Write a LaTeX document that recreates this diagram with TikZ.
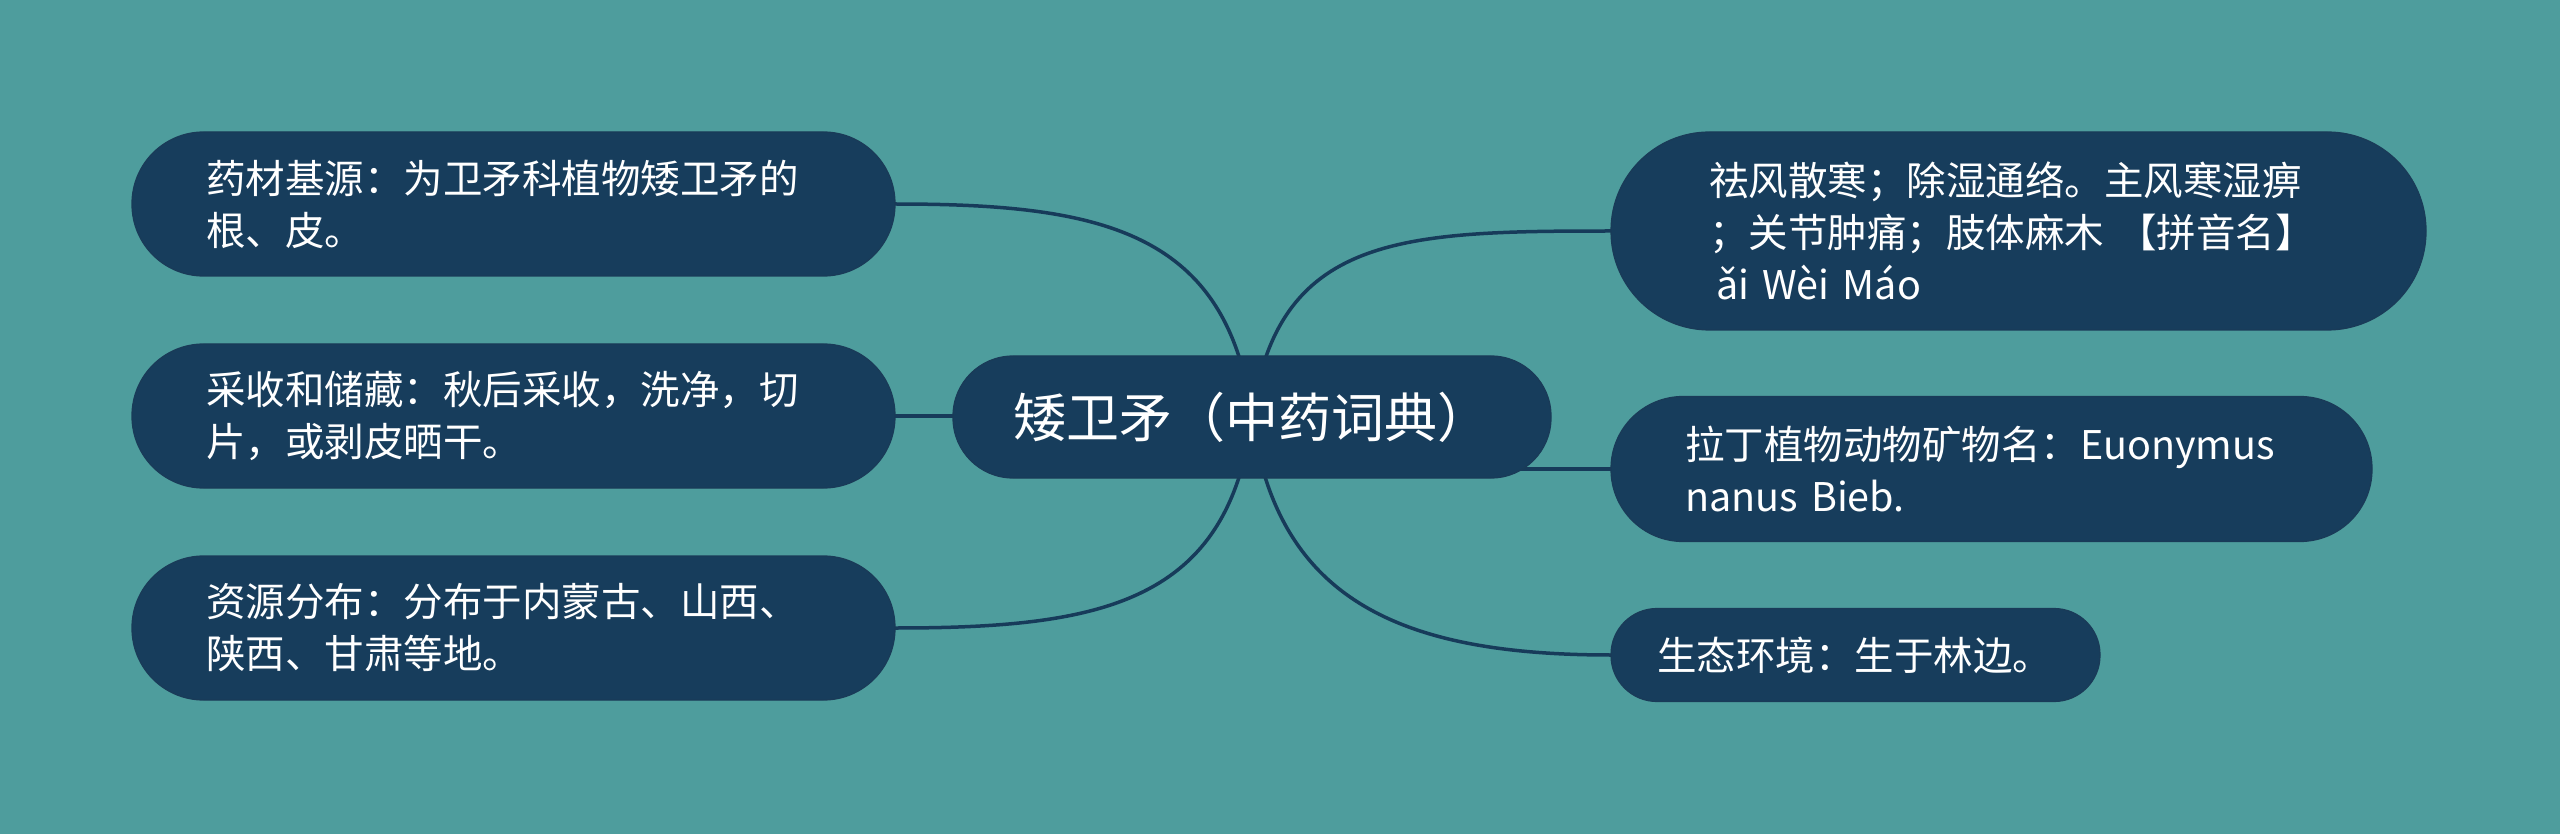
\documentclass[tikz,border=0pt]{standalone}
\usepackage{fontspec}
\setmainfont{Noto Sans CJK SC}
\definecolor{bgteal}{HTML}{4E9D9D}
\definecolor{boxnavy}{HTML}{173D5C}
\definecolor{boxedge}{HTML}{1A3B58}
\definecolor{linknavy}{HTML}{173B5A}
\pgfdeclarelayer{bglayer}
\pgfdeclarelayer{edgelayer}
\pgfsetlayers{bglayer,edgelayer,main}
\tikzset{
  leaf/.style={draw=boxedge, line width=1.2pt, fill=boxnavy, text=white, rectangle,
    inner sep=0pt, outer sep=0pt, align=left,
    font=\fontsize{39.5}{52}\selectfont},
  root/.style={draw=boxedge, line width=1.2pt, fill=boxnavy, text=white, rectangle,
    inner sep=0pt, outer sep=0pt, align=center,
    minimum width=598pt, minimum height=122pt, rounded corners=60pt,
    font=\fontsize{53}{64}\selectfont},
  link/.style={draw=linknavy, line width=3.5pt}
}
\begin{document}
\begin{tikzpicture}[x=1pt,y=-1pt]
\begin{pgfonlayer}{bglayer}
\fill[bgteal] (0,0) rectangle (2560,834);
\end{pgfonlayer}
\useasboundingbox (0,0) rectangle (2560,834);
% nodes
\node[root] (c) at (1252,417) {矮卫矛（中药词典）};
\node[leaf, minimum width=763pt, minimum height=144pt, rounded corners=71.5pt, text width=615pt]
  (l1) at (513.5,204) {药材基源：为卫矛科植物矮卫矛的\\根、皮。};
\node[leaf, minimum width=763pt, minimum height=144pt, rounded corners=71.5pt, text width=615pt]
  (l2) at (513.5,416) {采收和储藏：秋后采收，洗净，切\\片，或剥皮晒干。};
\node[leaf, minimum width=763pt, minimum height=144pt, rounded corners=71.5pt, text width=615pt]
  (l3) at (513.5,628) {资源分布：分布于内蒙古、山西、\\陕西、甘肃等地。};
\node[leaf, minimum width=815pt, minimum height=198pt, rounded corners=98.5pt, text width=619pt]
  (r1) at (2018.5,231) {祛风散寒；除湿通络。主风寒湿痹\\；关节肿痛；肢体麻木 【拼音名】\\\hspace*{7pt}ǎi Wèi Máo};
\node[leaf, minimum width=761pt, minimum height=145pt, rounded corners=72pt, text width=613pt]
  (r2) at (1991.5,469) {拉丁植物动物矿物名：Euonymus\\nanus Bieb.};
\node[leaf, minimum width=489pt, minimum height=93pt, rounded corners=46pt, text width=397pt]
  (r3) at (1855.5,655) {生态环境：生于林边。};
% connectors (behind nodes)
\begin{pgfonlayer}{edgelayer}
\draw[link] (c.center) .. controls (1228,230) and (1100,204) .. (l1.east);
\draw[link] (l2.east) -- (l2.east -| c.center);
\draw[link] (c.center) .. controls (1228,604) and (1100,628) .. (l3.east);
\draw[link] (c.center) .. controls (1277,235) and (1400,231) .. (r1.west);
\draw[link] (r2.west) -- (r2.west -| c.center);
\draw[link] (c.center) .. controls (1277,600) and (1400,655) .. (r3.west);
\end{pgfonlayer}
\end{tikzpicture}
\end{document}
